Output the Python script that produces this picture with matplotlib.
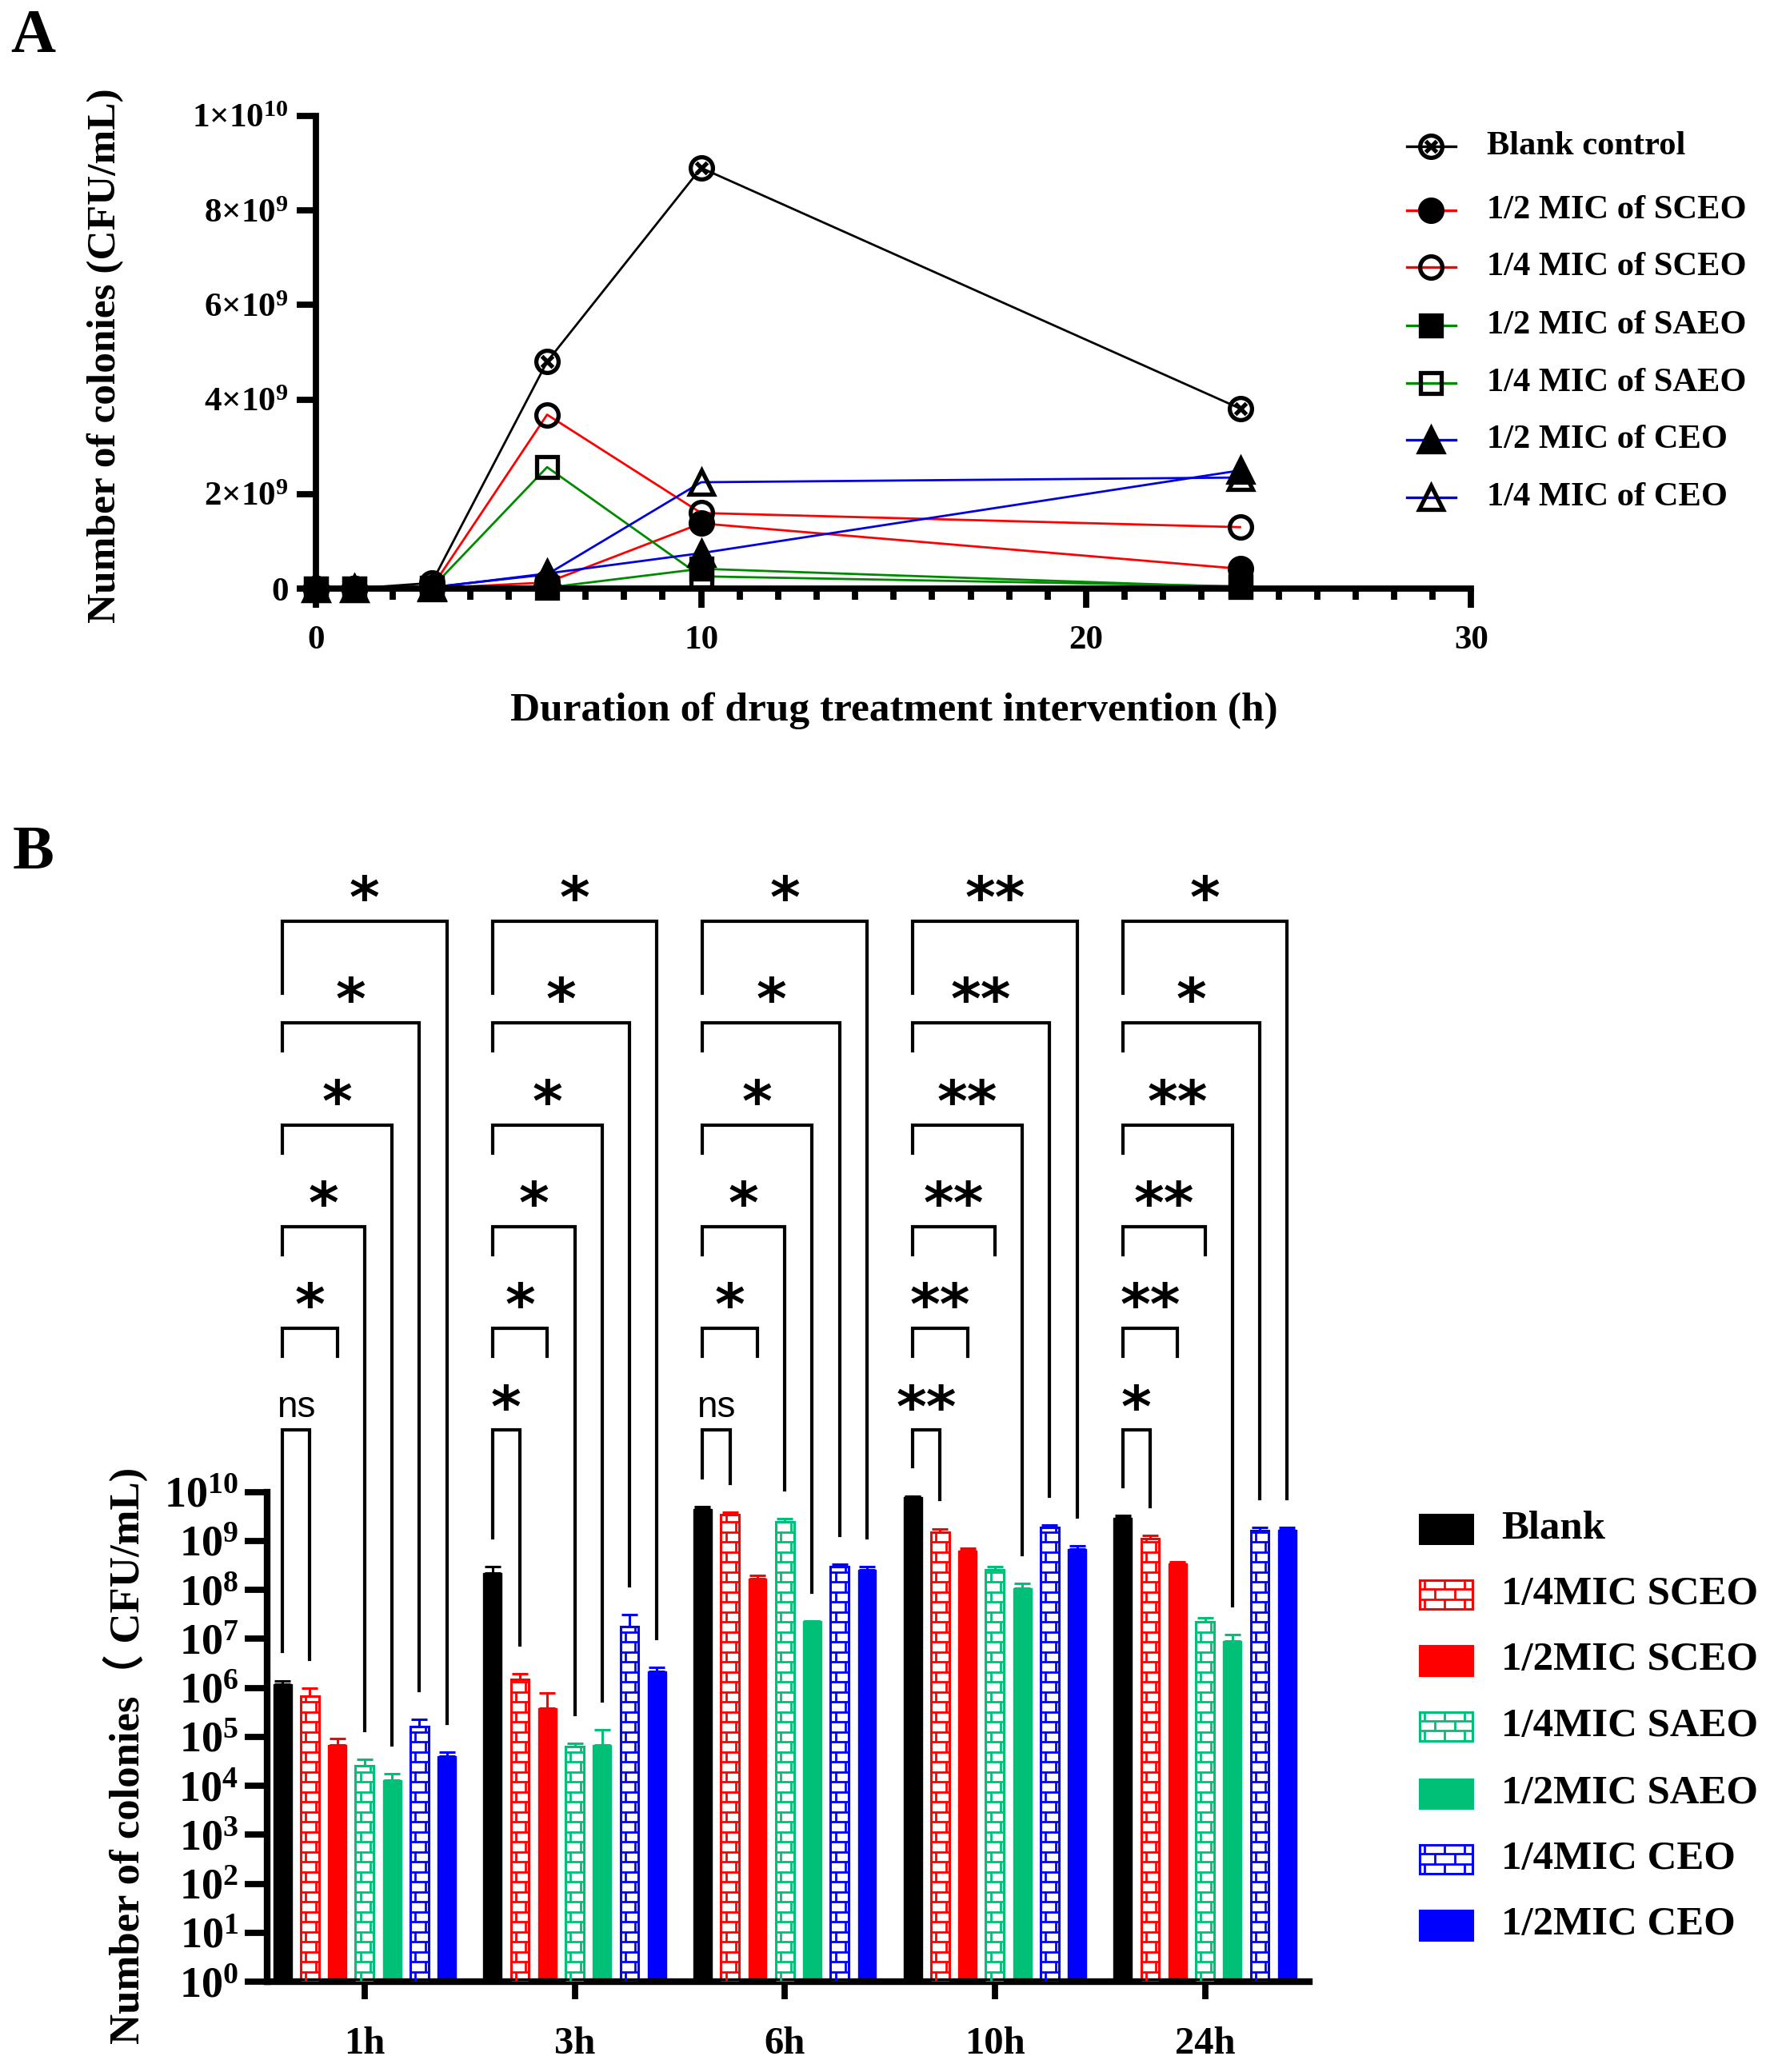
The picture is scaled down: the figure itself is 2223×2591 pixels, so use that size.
import numpy as np
import matplotlib
matplotlib.use("Agg")
import matplotlib.pyplot as plt
from matplotlib.path import Path
from matplotlib.lines import Line2D
from matplotlib.patches import Rectangle
from matplotlib.collections import LineCollection
from matplotlib.ticker import FixedLocator, FixedFormatter, MultipleLocator, NullLocator
from matplotlib.transforms import IdentityTransform

# ── Panel A data: CFU/mL over time ────────────────────────────────────────────
TIME_H = [0, 1, 3, 6, 10, 24]
A_LABELS = ["Blank control", "1/2 MIC of SCEO", "1/4 MIC of SCEO", "1/2 MIC of SAEO",
            "1/4 MIC of SAEO", "1/2 MIC of CEO", "1/4 MIC of CEO"]
blank_ctrl   = [0.002e9, 0.003e9, 0.12e9, 4.80e9, 8.90e9, 3.81e9]
sceo_half    = [0.001e9, 0.001e9, 0.01e9, 0.13e9, 1.38e9, 0.42e9]
sceo_quarter = [0.001e9, 0.002e9, 0.02e9, 3.68e9, 1.60e9, 1.30e9]
saeo_half    = [0.001e9, 0.001e9, 0.005e9, 0.02e9, 0.42e9, 0.03e9]
saeo_quarter = [0.001e9, 0.001e9, 0.01e9, 2.57e9, 0.26e9, 0.05e9]
ceo_half     = [0.001e9, 0.001e9, 0.02e9, 0.32e9, 0.75e9, 2.50e9]
ceo_quarter  = [0.001e9, 0.002e9, 0.03e9, 0.30e9, 2.25e9, 2.35e9]
A_YTICKS = [0, 2e9, 4e9, 6e9, 8e9, 1e10]

# ── Panel B data: bars (mean, upper error) per time point ─────────────────────
B_TIMES = ["1h", "3h", "6h", "10h", "24h"]
B_LABELS = ["Blank", "1/4MIC SCEO", "1/2MIC SCEO", "1/4MIC SAEO",
            "1/2MIC SAEO", "1/4MIC CEO", "1/2MIC CEO"]
blank_mean  = [1.2e6, 2.24e8, 4.47e9, 7.8e9, 3.0e9]
blank_err   = [0.21e6, 0.7e8, 0.6e9, 0.5e9, 0.3e9]
sceo_q_mean = [6.9e5, 1.5e6, 3.4e9, 1.48e9, 1.12e9]
sceo_q_err  = [3.1e5, 0.45e6, 0.5e9, 0.3e9, 0.18e9]
sceo_h_mean = [6.8e4, 3.9e5, 1.73e8, 6.3e8, 3.47e8]
sceo_h_err  = [2.3e4, 4.0e5, 0.27e8, 0.9e8, 0.25e8]
saeo_q_mean = [2.6e4, 6.3e4, 2.45e9, 2.57e8, 2.2e7]
saeo_q_err  = [0.9e4, 1.1e4, 0.4e9, 0.47e8, 0.45e7]
saeo_h_mean = [1.3e4, 6.9e4, 2.28e7, 1.07e8, 9.1e6]
saeo_h_err  = [0.44e4, 6.9e4, 0.07e7, 0.28e8, 3.3e6]
ceo_q_mean  = [1.6e5, 1.8e7, 3.0e8, 1.9e9, 1.6e9]
ceo_q_err   = [0.64e5, 1.3e7, 0.35e8, 0.23e9, 0.3e9]
ceo_h_mean  = [4.0e4, 2.2e6, 2.6e8, 6.9e8, 1.7e9]
ceo_h_err   = [0.9e4, 0.4e6, 0.4e8, 1.0e8, 0.16e9]
B_EXPONENTS = list(range(0, 11))

# significance of each treatment vs blank, per time point
SIG = [["ns", "*", "*", "*", "*", "*"],
       ["*", "*", "*", "*", "*", "*"],
       ["ns", "*", "*", "*", "*", "*"],
       ["**", "**", "**", "**", "**", "**"],
       ["*", "**", "**", "**", "*", "*"]]

# ── Style ─────────────────────────────────────────────────────────────────────
DPI = 200
W_PX, H_PX = 2223, 2591
REF_W, REF_H = 1350.0, 1573.5     # layout measured on a scaled copy

SERIF = ["Liberation Serif", "Noto Sans CJK TC"]
SANS = "Liberation Sans"
RED, GREEN, BLUE = "#FF0000", "#00BF76", "#0000FF"
A_GREEN, A_BLUE = "#008A00", "#0000E0"

plt.rcParams["font.family"] = SERIF
plt.rcParams["font.weight"] = "bold"
plt.rcParams["mathtext.fontset"] = "custom"
plt.rcParams["mathtext.rm"] = "Liberation Serif:bold"
plt.rcParams["mathtext.bf"] = "Liberation Serif:bold"
plt.rcParams["mathtext.it"] = "Liberation Serif:bold:italic"
plt.rcParams["mathtext.default"] = "rm"


def fx(x):
    return x / REF_W


def fy(y):
    return 1 - y / REF_H


def otimes_marker():
    d = 0.5
    cross = Path([[-d, -d], [d, d], [-d, d], [d, -d]],
                 [Path.MOVETO, Path.LINETO, Path.MOVETO, Path.LINETO])
    return Path.make_compound_path(Path.unit_circle(), cross)


def add_bricks(container, patch, color, lw=1.0, row=12.5, brick=25.0, zorder=3):
    """Brick hatch drawn in pixels and clipped to the patch."""
    bb = patch.get_window_extent()
    segs = []
    n_rows = int(np.ceil(bb.height / row)) + 1
    for j in range(n_rows):
        yb = bb.y0 + j * row
        segs.append([(bb.x0, yb), (bb.x1, yb)])
        off = 0.25 * brick + (j % 2) * brick / 2
        for xv in np.arange(bb.x0 + off, bb.x1, brick):
            segs.append([(xv, yb), (xv, yb + row)])
    lc = LineCollection(segs, colors=color, linewidths=lw,
                        transform=IdentityTransform(), zorder=zorder)
    if hasattr(container, "add_collection"):
        container.add_collection(lc, autolim=False)
    else:
        container.add_artist(lc)
    lc.set_clip_path(patch)


fig = plt.figure(figsize=(W_PX / DPI, H_PX / DPI), dpi=DPI)
fig.patch.set_facecolor("white")

# ── Panel A ───────────────────────────────────────────────────────────────────
axA = fig.add_axes([fx(240), fy(447), fx(1117) - fx(240), fy(88) - fy(447)])
a_series = [blank_ctrl, sceo_half, sceo_quarter, saeo_half, saeo_quarter, ceo_half, ceo_quarter]
a_colors = ["black", RED, RED, A_GREEN, A_GREEN, A_BLUE, A_BLUE]
OTIMES = otimes_marker()
a_markers = [OTIMES, "o", "o", "s", "s", "^", "^"]
a_fill = ["none", "black", "none", "black", "none", "black", "none"]
a_ms = [10, 10, 10, 9.5, 9.5, 10.5, 10.5]

for vals, c in zip(a_series, a_colors):
    axA.plot(TIME_H, vals, color=c, lw=1.0, zorder=2, clip_on=False)
for i in [0, 2, 1, 6, 5, 4, 3]:
    axA.plot(TIME_H, a_series[i], ls="none", marker=a_markers[i], ms=a_ms[i],
             mfc=a_fill[i], mec="black", mew=1.9, zorder=4, clip_on=False)

axA.set_xlim(0, 30)
axA.set_ylim(0, 1e10)
axA.xaxis.set_major_locator(FixedLocator([0, 10, 20, 30]))
axA.xaxis.set_minor_locator(MultipleLocator(1))
axA.yaxis.set_major_locator(FixedLocator(A_YTICKS))
a_ylabels = []
for v in A_YTICKS:
    if v == 0:
        a_ylabels.append("0")
    else:
        e = int(np.floor(np.log10(v)))
        a_ylabels.append(r"$%d{\times}10^{%d}$" % (round(v / 10 ** e), e))
axA.yaxis.set_major_formatter(FixedFormatter(a_ylabels))
for s in ["top", "right"]:
    axA.spines[s].set_visible(False)
for s in ["left", "bottom"]:
    axA.spines[s].set_linewidth(2.8)
axA.tick_params(which="major", length=8.5, width=2.8, labelsize=15.5, pad=4)
axA.tick_params(axis="x", which="major", pad=8)
axA.tick_params(which="minor", length=5, width=2.8)
axA.set_facecolor("none")

fig.text(fx(679), fy(540), "Duration of drug treatment intervention (h)",
         ha="center", va="center", fontsize=18.5, fontweight="bold")
fig.text(fx(80), fy(270), "Number of colonies (CFU/mL)", rotation=90,
         ha="center", va="center", fontsize=18.5, fontweight="bold")

# legend A (manual)
a_rows = [111, 160, 203, 247, 291, 334, 378]
for i, lab in enumerate(A_LABELS):
    yy = fy(a_rows[i])
    fig.add_artist(Line2D([fx(1068), fx(1105)], [yy, yy], color=a_colors[i], lw=1.2,
                          transform=fig.transFigure))
    fig.add_artist(Line2D([fx(1086.5)], [yy], ls="none", marker=a_markers[i], ms=a_ms[i],
                          mfc=a_fill[i], mec="black", mew=1.9, transform=fig.transFigure))
    fig.text(fx(1129), yy, lab, ha="left", va="center", fontsize=15.3, fontweight="bold")

# ── Panel B ───────────────────────────────────────────────────────────────────
axB = fig.add_axes([fx(203), fy(1505), fx(994) - fx(203), fy(1133) - fy(1505)])
axB.set_yscale("log")
axB.set_xlim(-0.463, 4.496)
axB.set_ylim(1, 1e10)

b_means = [blank_mean, sceo_q_mean, sceo_h_mean, saeo_q_mean, saeo_h_mean, ceo_q_mean, ceo_h_mean]
b_errs = [blank_err, sceo_q_err, sceo_h_err, saeo_q_err, saeo_h_err, ceo_q_err, ceo_h_err]
b_colors = ["black", RED, RED, GREEN, GREEN, BLUE, BLUE]
b_hatched = [False, True, False, True, False, True, False]

STEP = 0.1304
BAR_W = 0.087
x_groups = np.arange(len(B_TIMES))

bar_patches = []
for i in range(7):
    xs = x_groups + (i - 3) * STEP
    m = np.array(b_means[i])
    if b_hatched[i]:
        bars = axB.bar(xs, m - 1, bottom=1, width=BAR_W, color="white",
                       edgecolor=b_colors[i], lw=1.1, zorder=2)
    else:
        bars = axB.bar(xs, m - 1, bottom=1, width=BAR_W, color=b_colors[i],
                       edgecolor=b_colors[i], lw=0.5, zorder=2)
    bar_patches.append(bars)
    axB.errorbar(xs, m, yerr=[np.zeros_like(m), np.array(b_errs[i])], fmt="none",
                 ecolor=b_colors[i], elinewidth=1.1, capsize=3.6, capthick=1.1, zorder=3)

axB.yaxis.set_major_locator(FixedLocator([10.0 ** e for e in B_EXPONENTS]))
axB.yaxis.set_major_formatter(FixedFormatter([r"$10^{%d}$" % e for e in B_EXPONENTS]))
axB.yaxis.set_minor_locator(NullLocator())
axB.set_xticks(x_groups)
axB.set_xticklabels(B_TIMES)
for s in ["top", "right"]:
    axB.spines[s].set_visible(False)
for s in ["left", "bottom"]:
    axB.spines[s].set_linewidth(3)
axB.tick_params(axis="y", length=10, width=2.8, labelsize=19.5, pad=3)
axB.tick_params(axis="x", length=8, width=2.8, labelsize=17.5, pad=12)
axB.set_facecolor("none")

fig.text(fx(95), fy(1333), "Number of colonies（ CFU/mL)", rotation=90,
         ha="center", va="center", fontsize=19, fontweight="bold")

# brick hatching on the open bars (after the layout is fixed)
for i in range(7):
    if b_hatched[i]:
        for p in bar_patches[i]:
            add_bricks(axB, p, b_colors[i], lw=1.0)

# significance brackets (in decades of the log axis, drawn above the plot)
TOP0, DTOP = 11.26, 2.078
SHORT = 0.57
GAP = 0.59
SHORT_RIGHT = [{2}, {2}, {2}, {2, 3}, {2, 3}]
for g in range(len(B_TIMES)):
    xl = g - 3 * STEP
    blank_top = np.log10(blank_mean[g] + blank_err[g]) + GAP
    for k in range(1, 7):
        top = TOP0 + DTOP * (k - 1)
        xr = g + (k - 3) * STEP
        if k == 1:
            yl = blank_top
        elif k == 6:
            yl = top - 1.47
        else:
            yl = top - SHORT
        if k in SHORT_RIGHT[g]:
            yr = top - SHORT
        else:
            yr = np.log10(b_means[k][g] + b_errs[k][g]) + GAP
        axB.plot([xl, xl, xr, xr], 10.0 ** np.array([yl, top, top, yr]),
                 color="black", lw=1.5, clip_on=False, solid_joinstyle="miter", zorder=5)
        lab = SIG[g][k - 1]
        xm = (xl + xr) / 2
        if lab == "ns":
            axB.text(xm, 10 ** (top + 0.27), lab, ha="center", va="baseline",
                     fontsize=16.5, fontweight="normal", family=SANS, clip_on=False)
        else:
            axB.text(xm, 10 ** (top + 0.08), lab, ha="center", va="baseline",
                     fontsize=26, fontweight="bold", family="DejaVu Sans", clip_on=False)

# legend B (manual, with brick patches)
b_rows = [1161, 1211, 1261, 1311, 1362, 1412, 1462]
for i, lab in enumerate(B_LABELS):
    yc = fy(b_rows[i])
    hh = fy(1150) - fy(1172)
    rect = Rectangle((fx(1078), yc - hh / 2), fx(1118) - fx(1078), hh,
                     transform=fig.transFigure,
                     facecolor="white" if b_hatched[i] else b_colors[i],
                     edgecolor=b_colors[i], lw=1.1)
    fig.add_artist(rect)
    if b_hatched[i]:
        add_bricks(fig, rect, b_colors[i], lw=1.0)
    fig.text(fx(1140), yc, lab, ha="left", va="center", fontsize=18.3, fontweight="bold")

# panel letters
fig.text(fx(25), fy(28), "A", ha="center", va="center", fontsize=28, fontweight="bold")
fig.text(fx(25), fy(648), "B", ha="center", va="center", fontsize=28, fontweight="bold")

fig.savefig("out.png", dpi=DPI, facecolor="white")
